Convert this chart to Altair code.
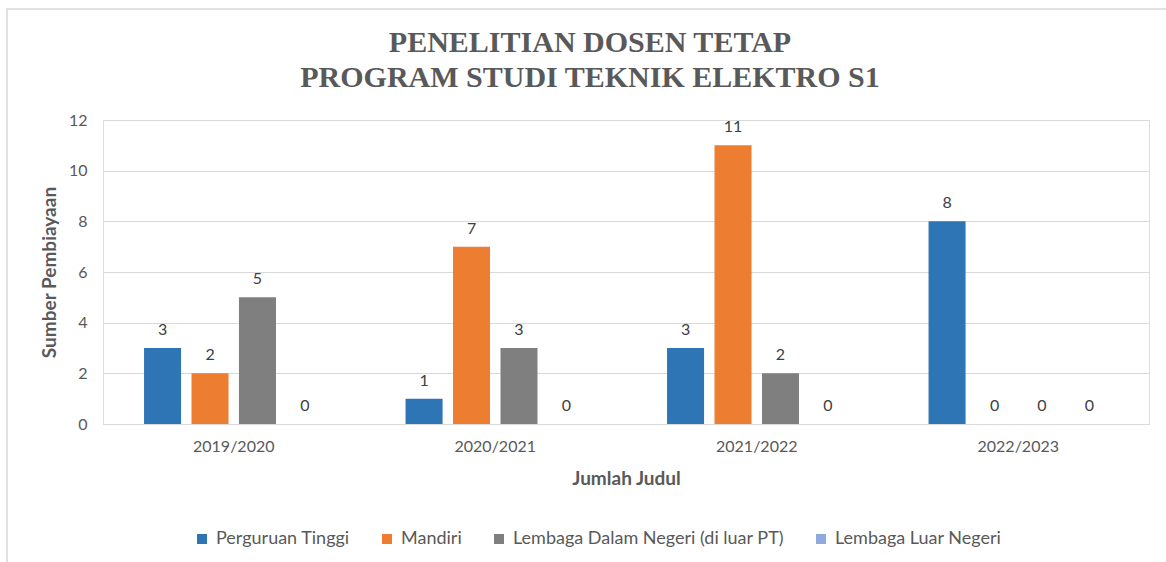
import altair as alt
import pandas as pd

years = ["2019/2020", "2020/2021", "2021/2022", "2022/2023"]
series = ["Perguruan Tinggi", "Mandiri", "Lembaga Dalam Negeri (di luar PT)", "Lembaga Luar Negeri"]
perguruan_tinggi = [3, 1, 3, 8]
mandiri = [2, 7, 11, 0]
lembaga_dalam = [5, 3, 2, 0]
lembaga_luar = [0, 0, 0, 0]
colors = ["#2E75B6", "#ED7D31", "#7F7F7F", "#8FAADC"]

rows = []
for vals, s in zip([perguruan_tinggi, mandiri, lembaga_dalam, lembaga_luar], series):
    for y, v in zip(years, vals):
        rows.append({"Tahun": y, "Sumber": s, "Nilai": v})
df = pd.DataFrame(rows)

FONT = "Lato"
TXT = "#595959"

base = alt.Chart(df).encode(
    x=alt.X("Tahun:N", sort=years,
            scale=alt.Scale(paddingInner=0.274, paddingOuter=0.137),
            axis=alt.Axis(title="Jumlah Judul", labelAngle=0, labelFontSize=16, labelFont=FONT,
                          labelColor=TXT, titleFont=FONT, titleFontSize=19, titleFontWeight="bold",
                          titleColor=TXT, ticks=False, domainColor="#D9D9D9", labelPadding=14,
                          titlePadding=15, grid=False)),
    xOffset=alt.XOffset("Sumber:N", sort=series,
                        scale=alt.Scale(paddingInner=0.22, paddingOuter=0.11)),
    y=alt.Y("Nilai:Q", scale=alt.Scale(domain=[0, 12]),
            axis=alt.Axis(title="Sumber Pembiayaan", values=[0, 2, 4, 6, 8, 10, 12],
                          labelFontSize=16, labelFont=FONT, labelColor=TXT, titleFont=FONT,
                          titleFontSize=19, titleFontWeight="bold", titleColor=TXT,
                          ticks=False, domain=False, gridColor="#D9D9D9", labelPadding=16,
                          titlePadding=9)),
)

bars = base.mark_bar().encode(
    color=alt.Color("Sumber:N", sort=series,
                    scale=alt.Scale(domain=series, range=colors),
                    legend=alt.Legend(title=None, orient="none", direction="horizontal",
                                      legendX=90, legendY=410, symbolType="square",
                                      symbolSize=100, symbolStrokeWidth=0, labelFont=FONT,
                                      labelFontSize=18, labelColor=TXT, columnPadding=28,
                                      labelOffset=5, labelLimit=500))
)

labels = base.mark_text(baseline="bottom", dy=-10, font=FONT, fontSize=16, color="#404040").encode(
    text=alt.Text("Nilai:Q")
)

border = alt.Chart(pd.DataFrame({"a": [0]})).mark_rect(
    fill=None, stroke="#D9D9D9", strokeWidth=1.5
).encode(x=alt.value(-96), x2=alt.value(1200), y=alt.value(-111), y2=alt.value(600))

chart = alt.layer(border, bars, labels).properties(
    width=1046, height=304,
    title=alt.TitleParams(text=["PENELITIAN DOSEN TETAP", "PROGRAM STUDI TEKNIK ELEKTRO S1"],
                          font="Liberation Serif", fontSize=30, fontWeight="bold", color=TXT,
                          anchor="middle", dx=-36, dy=103, lineHeight=35, offset=18),
    autosize=alt.AutoSizeParams(type="none"),
    padding={"left": 103, "top": 120, "right": 17, "bottom": 138},
).configure_view(stroke=None).configure(background="white")

chart.save("out.html", embed_options={"renderer": "svg", "actions": False})
